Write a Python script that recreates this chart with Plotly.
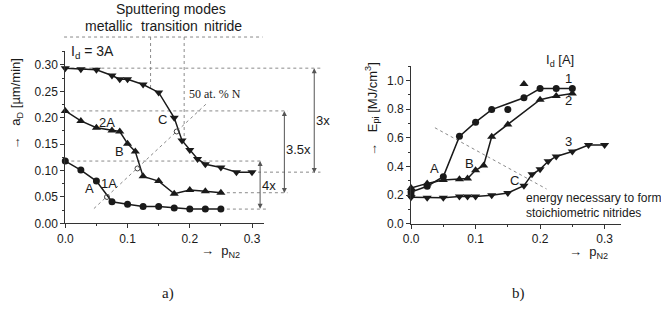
import plotly.graph_objects as go

W, H = 661, 310

# ---------------- data : panel a) deposition rate ----------------
a1_x = [0, 0.025, 0.05, 0.075, 0.1, 0.125, 0.15, 0.175, 0.2, 0.225, 0.25]
a1_y = [0.118, 0.101, 0.080, 0.041, 0.036, 0.032, 0.032, 0.029, 0.027, 0.027, 0.027]
a2_x = [0, 0.025, 0.05, 0.075, 0.0875, 0.1, 0.1125, 0.125, 0.15, 0.175, 0.2, 0.225, 0.25]
a2_y = [0.213, 0.194, 0.181, 0.176, 0.174, 0.151, 0.136, 0.089, 0.080, 0.056, 0.063, 0.061, 0.058]
a3_x = [0, 0.025, 0.05, 0.075, 0.0875, 0.1, 0.125, 0.15, 0.175, 0.1875, 0.2, 0.2125, 0.225, 0.25, 0.275, 0.3]
a3_y = [0.294, 0.292, 0.291, 0.280, 0.273, 0.273, 0.263, 0.248, 0.200, 0.157, 0.139, 0.122, 0.112, 0.106, 0.097, 0.097]
n50_x = [0.067, 0.116, 0.179]          # crossings with the 50 at.% N line
n50_y = [0.050, 0.104, 0.174]
n50_line_x = [0.046, 0.228]
n50_line_y = [0.028, 0.228]
mode_x = [0.137, 0.191]               # metallic/transition/nitride borders
mode_y = [0.255, 0.154]
mode_top = 0.353

# ---------------- data : panel b) energy per deposited volume ----------------
b1_x = [0, 0.025, 0.05, 0.075, 0.1, 0.125, 0.175, 0.2, 0.225, 0.25]
b1_y = [0.222, 0.262, 0.329, 0.610, 0.709, 0.797, 0.879, 0.943, 0.943, 0.943]
b1_extra_x = [0.15, 0.0]
b1_extra_y = [0.797, 0.200]
b2_x = [0, 0.025, 0.05, 0.075, 0.0875, 0.1, 0.1125, 0.125, 0.15, 0.2, 0.225, 0.25]
b2_y = [0.250, 0.282, 0.305, 0.311, 0.316, 0.373, 0.407, 0.607, 0.693, 0.866, 0.891, 0.909]
b2_extra_x = [0.175]
b2_extra_y = [0.975]
b3_x = [0, 0.025, 0.05, 0.075, 0.0875, 0.1, 0.125, 0.15, 0.175, 0.1875, 0.2, 0.2125, 0.225, 0.25, 0.275, 0.3]
b3_y = [0.186, 0.182, 0.182, 0.190, 0.190, 0.190, 0.200, 0.215, 0.266, 0.345, 0.380, 0.436, 0.470, 0.504, 0.550, 0.550]
stoich_x = [0.037, 0.21]
stoich_y = [0.67, 0.243]

# ---------------- geometry ----------------
AX0, AXS, AY0, AYS = 58.0, 630.0, 228.5, 540.0     # panel a pixel mapping
AXR, AYR = [0, 0.32], [0, 0.327]
BX0, BXS, BY0, BYS = 408.0, 653.0, 229.0, 146.7
BXR, BYR = [0, 0.325], [0, 1.1]

def pa(x, y):
    return (AX0 + x * AXS) / W, 1 - (AY0 - y * AYS) / H

def T(px, py):
    return px / W, 1 - py / H

INK = '#1a1a1a'
GUIDE = '#8a8a8a'
SANS = 'Liberation Sans, Arial, sans-serif'
SERIF = 'Liberation Serif, Times New Roman, serif'

fig = go.Figure()

def line_trace(x, y, sym, size, xa, ya):
    fig.add_trace(go.Scatter(x=x, y=y, mode='lines+markers', xaxis=xa, yaxis=ya,
                             line=dict(color=INK, width=1.5),
                             marker=dict(symbol=sym, size=size, color=INK),
                             showlegend=False, cliponaxis=False))

def pts(x, y, sym, size, xa, ya):
    fig.add_trace(go.Scatter(x=x, y=y, mode='markers', xaxis=xa, yaxis=ya,
                             marker=dict(symbol=sym, size=size, color=INK),
                             showlegend=False, cliponaxis=False))

# panel a
line_trace(a1_x, a1_y, 'circle', 7, 'x', 'y')
line_trace(a2_x, a2_y, 'triangle-up', 8, 'x', 'y')
line_trace(a3_x, a3_y, 'triangle-down', 8, 'x', 'y')
fig.add_trace(go.Scatter(x=n50_x, y=n50_y, mode='markers', xaxis='x', yaxis='y',
                         marker=dict(symbol='circle-open', size=5, color='#444', line=dict(width=1)),
                         showlegend=False, cliponaxis=False))
fig.add_trace(go.Scatter(x=mode_x, y=[mode_top] * 2, mode='markers', xaxis='x', yaxis='y',
                         marker=dict(symbol='circle-open', size=5, color='#444', line=dict(width=1.2)),
                         showlegend=False, cliponaxis=False))

# panel b
line_trace(b1_x, b1_y, 'circle', 7, 'x2', 'y2')
line_trace(b2_x, b2_y, 'triangle-up', 8, 'x2', 'y2')
line_trace(b3_x, b3_y, 'triangle-down', 8, 'x2', 'y2')
pts(b1_extra_x, b1_extra_y, 'circle', 7, 'x2', 'y2')
pts(b2_extra_x, b2_extra_y, 'triangle-up', 8, 'x2', 'y2')

shapes = []
def gline(x0, y0, x1, y1):
    X0, Y0 = pa(x0, y0)
    X1, Y1 = pa(x1, y1)
    shapes.append(dict(type='line', xref='paper', yref='paper', x0=X0, y0=Y0, x1=X1, y1=Y1,
                       line=dict(color=GUIDE, width=1, dash='dot'), layer='below'))

# guides panel a
gline(-0.002, mode_top, 0.317, mode_top)
for xv, yv in zip(mode_x, mode_y):
    gline(xv, mode_top, xv, yv)
gline(0, a3_y[0], 0.41, a3_y[0])
gline(0, a2_y[0], 0.357, a2_y[0])
gline(0, a1_y[0], 0.316, a1_y[0])
gline(a3_x[-1], a3_y[-1], 0.41, a3_y[-1])
gline(a2_x[-1], a2_y[-1], 0.357, a2_y[-1])
gline(a1_x[-1], a1_y[-1], 0.323, a1_y[-1])
gline(n50_line_x[0], n50_line_y[0], n50_line_x[1], n50_line_y[1])
# guide panel b
shapes.append(dict(type='line', xref='x2', yref='y2', x0=stoich_x[0], y0=stoich_y[0],
                   x1=stoich_x[1], y1=stoich_y[1], line=dict(color=GUIDE, width=1, dash='dot'),
                   layer='below'))

ann = []
def arrow(xv, ylo, yhi):
    X, Y = pa(xv, yhi)
    ann.append(dict(xref='paper', yref='paper', x=X, y=Y, ax=0, ay=(yhi - ylo) * AYS,
                    text='', showarrow=True, arrowhead=2, arrowsize=1, arrowwidth=1,
                    arrowside='end+start', arrowcolor='#555'))

arrow(0.400, a3_y[-1], a3_y[0])
arrow(0.352, a2_y[-1], a2_y[0])
arrow(0.313, a1_y[-1], a1_y[0])

def text(px, py, s, size=13, family=SANS, xanchor='center', angle=0):
    X, Y = T(px, py)
    ann.append(dict(xref='paper', yref='paper', x=X, y=Y, text=s, showarrow=False,
                    xanchor=xanchor, yanchor='middle', textangle=angle,
                    font=dict(family=family, size=size, color=INK)))

# panel a texts
text(165, 9, 'Sputtering modes', 14)
text(102, 27, 'metallic', 14)
text(163, 27, 'transition', 14)
text(218, 27, 'nitride', 14)
text(86, 53, 'I<sub>d</sub> = 3A', 14)
text(100, 125, '2A', 13)
text(113, 155, 'B', 13)
text(156, 122, 'C', 13)
text(82.5, 193, 'A', 13)
text(102, 188, '1A', 13)
text(210, 96, '50 at. % N', 12, SERIF)
text(319, 123, '3x', 13)
text(294, 153, '3.5x', 13)
text(264, 190, '4x', 13)
text(9, 106, '→   a<sub>D</sub> [µm/min]', 13, angle=-90)
text(215, 257, '→  p<sub>N2</sub>', 13)
text(162, 300, 'a)', 15, SERIF)

# panel b texts
text(559, 62, 'I<sub>d</sub> [A]', 13)
text(567, 80, '1', 13)
text(567, 103, '2', 13)
text(567, 145, '3', 13)
text(432, 172, 'A', 13)
text(467, 167, 'B', 13)
text(513, 185, 'C', 13)
text(522, 203, 'energy necessary to form', 12, xanchor='left')
text(522, 218, 'stoichiometric nitrides', 12, xanchor='left')
text(369, 112, '→   E<sub>pi</sub> [MJ/cm<sup>3</sup>]', 13, angle=-90)
text(588, 258, '→  p<sub>N2</sub>', 13)
text(517, 300, 'b)', 15, SERIF)

def axis(domain, rng, dtick, minor, fmt, anchor):
    return dict(domain=domain, range=rng, dtick=dtick, tick0=0, tickformat=fmt,
                showline=True, linecolor='#333', linewidth=1, ticks='outside',
                ticklen=4, tickwidth=1, tickcolor='#333', showgrid=False, zeroline=False,
                minor=dict(ticks='outside', ticklen=2, dtick=minor, tickcolor='#333', showgrid=False),
                tickfont=dict(family=SANS, size=12, color=INK), anchor=anchor, fixedrange=True)

fig.update_layout(
    width=W, height=H, margin=dict(l=0, r=0, t=0, b=0),
    paper_bgcolor='white', plot_bgcolor='white', showlegend=False,
    xaxis=axis([AX0 / W, (AX0 + AXR[1] * AXS) / W], AXR, 0.1, 0.05, '.1f', 'y'),
    yaxis=axis([1 - AY0 / H, 1 - (AY0 - AYR[1] * AYS) / H], AYR, 0.05, 0.025, '.2f', 'x'),
    xaxis2=axis([BX0 / W, (BX0 + BXR[1] * BXS) / W], BXR, 0.1, 0.05, '.1f', 'y2'),
    yaxis2=axis([1 - BY0 / H, 1 - (BY0 - BYR[1] * BYS) / H], BYR, 0.2, 0.1, '.1f', 'x2'),
    shapes=shapes, annotations=ann,
)

fig.write_html('out.html', config={'displayModeBar': False},
               post_script="document.body.style.margin='0';document.body.style.overflow='hidden';")
